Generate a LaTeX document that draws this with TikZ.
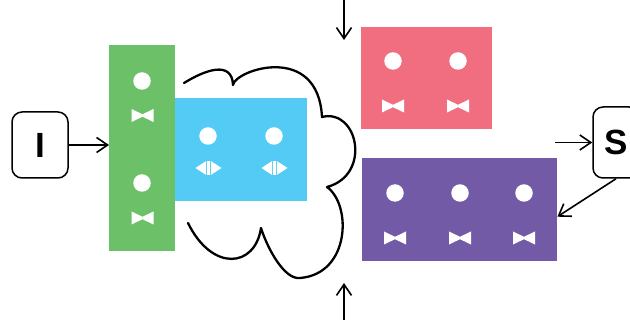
\documentclass[tikz,border=0pt]{standalone}
\usepackage{fontspec}
\setmainfont{Liberation Sans}
\usetikzlibrary{arrows.meta}
\definecolor{cgreen}{HTML}{6CC067}
\definecolor{cblue}{HTML}{53CBF5}
\definecolor{cred}{HTML}{F06E7F}
\definecolor{cpurple}{HTML}{735AA6}
\tikzset{
  panel/.style={draw=none, inner sep=0pt, anchor=north west},
  dot/.style={circle, fill=white, draw=none, minimum size=17.5pt, inner sep=0pt},
  letterbox/.style={draw=black, line width=1.5pt, rounded corners=10pt, inner sep=0pt,
    font=\bfseries\fontsize{35}{35}\selectfont},
  conn/.style={line width=1.6pt, -{Straight Barb[length=11pt,width=15pt,line width=1.6pt]}},
  bowtie/.pic={\fill[white] (-11,-6.5) -- (0,-1.2) -- (0,1.2) -- (-11,6.5) -- cycle
                 (11,-6.5) -- (0,-1.2) -- (0,1.2) -- (11,6.5) -- cycle;},
  dblarrow/.pic={\fill[white] (-13,0) -- (-2.3,-7) -- (-2.3,7) -- cycle
                   (13,0) -- (2.3,-7) -- (2.3,7) -- cycle;
                 \fill[white] (-1.1,-7) rectangle (1.1,7);}
}
\begin{document}
\begin{tikzpicture}[x=1pt,y=-1pt]
\useasboundingbox (0,0) rectangle (630,320);
% panels
\node[panel, fill=cgreen, minimum width=66pt, minimum height=206pt] (green) at (109,45) {};
\node[panel, fill=cblue, minimum width=132pt, minimum height=103pt] (blue) at (175,98) {};
\node[panel, fill=cred, minimum width=131pt, minimum height=102pt] (red) at (361,27) {};
\node[panel, fill=cpurple, minimum width=195pt, minimum height=103pt] (purple) at (362,158) {};
% green contents
\node[dot] (g1) at (142,81) {};
\pic at (142.5,115.5) {bowtie};
\node[dot] (g2) at (142,183) {};
\pic at (142.5,218) {bowtie};
% blue contents
\node[dot] (b1) at (208,136) {};
\node[dot] (b2) at (274,136) {};
\pic at (208.5,168) {dblarrow};
\pic at (274.5,168) {dblarrow};
% red contents
\node[dot] (r1) at (393,61) {};
\node[dot] (r2) at (458,61) {};
\pic at (393,106) {bowtie};
\pic at (458,106) {bowtie};
% purple contents
\node[dot] (p1) at (395,193) {};
\node[dot] (p2) at (460,193) {};
\node[dot] (p3) at (524,193) {};
\pic at (395,238) {bowtie};
\pic at (460,238) {bowtie};
\pic at (524,238) {bowtie};
% cloud
\draw[line width=2.3pt, line cap=round, line join=round]
  (184,83) .. controls (205,70) and (232,60) .. (233,85)
  .. controls (235,70) and (318,42) .. (322,117)
  .. controls (358,108) and (372,175) .. (327,187)
  .. controls (352,205) and (350,274) .. (300,278)
  .. controls (285,280) and (268,250) .. (261,228)
  .. controls (255,268) and (212,272) .. (188,223);
% letter boxes
\node[letterbox, minimum width=56pt, minimum height=66pt] (I) at (40,145) {I};
\node[letterbox, minimum width=46pt, minimum height=71pt] (S) at (616,142.5) {S};
% connectors
\coordinate (topin) at (344,0);
\coordinate (topout) at (344,40);
\coordinate (botin) at (344,320);
\coordinate (botout) at (344,283);
\coordinate (sin) at (555,142.5);
\draw[conn] (topin) -- (topout);
\draw[conn] (botin) -- (botout);
\draw[conn] (I.east) -- (I.east -| green.west);
\draw[conn] (sin) -- (S.west);
\draw[conn] (S.south) -- ([yshift=-7pt]purple.east);
\end{tikzpicture}
\end{document}
